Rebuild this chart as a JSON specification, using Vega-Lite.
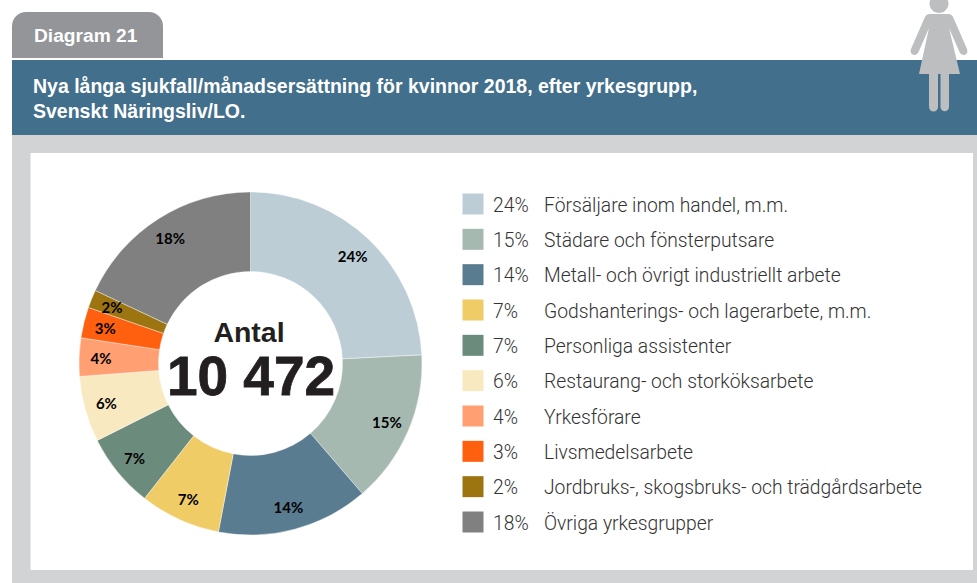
{
"$schema":"https://vega.github.io/schema/vega-lite/v6.json",
"width":977,"height":583,"padding":0,"autosize":{"type":"none"},
"background":"#ffffff",
"config":{"view":{"stroke":null}},
"data":{"values":[
{"name":"Försäljare inom handel, m.m.","value":24.2,"label":"24%","order":1},
{"name":"Städare och fönsterputsare","value":14.5,"label":"15%","order":2},
{"name":"Metall- och övrigt industriellt arbete","value":14.3,"label":"14%","order":3},
{"name":"Godshanterings- och lagerarbete, m.m.","value":7.6,"label":"7%","order":4},
{"name":"Personliga assistenter","value":7.0,"label":"7%","order":5},
{"name":"Restaurang- och storköksarbete","value":6.2,"label":"6%","order":6},
{"name":"Yrkesförare","value":3.6,"label":"4%","order":7},
{"name":"Livsmedelsarbete","value":2.9,"label":"3%","order":8},
{"name":"Jordbruks-, skogsbruks- och trädgårdsarbete","value":1.7,"label":"2%","order":9},
{"name":"Övriga yrkesgrupper","value":18.0,"label":"18%","order":10}
]},
"layer":[
{"data":{"values":[{}]},"mark":{"type":"rect","fill":"#d1d3d4"},"encoding":{"x":{"value":12},"x2":{"value":977},"y":{"value":135},"y2":{"value":583}}},
{"data":{"values":[{}]},"mark":{"type":"rect","fill":"#ffffff"},"encoding":{"x":{"value":30.5},"x2":{"value":973},"y":{"value":153},"y2":{"value":570}}},
{"data":{"values":[{}]},"mark":{"type":"rect","fill":"#939598","cornerRadiusTopLeft":14,"cornerRadiusTopRight":14},"encoding":{"x":{"value":12},"x2":{"value":163},"y":{"value":12},"y2":{"value":58}}},
{"data":{"values":[{}]},"mark":{"type":"rect","fill":"#426f8c"},"encoding":{"x":{"value":12},"x2":{"value":977},"y":{"value":60},"y2":{"value":135}}},
{"data":{"values":[{"t":"Diagram 21"}]},"mark":{"type":"text","align":"left","baseline":"middle","font":"Liberation Sans","fontWeight":"bold","fontSize":19.2,"fill":"#ffffff"},"encoding":{"text":{"field":"t"},"x":{"value":34},"y":{"value":35.5}}},
{"data":{"values":[{"t":"Nya långa sjukfall/månadsersättning för kvinnor 2018, efter yrkesgrupp,\nSvenskt Näringsliv/LO."}]},"mark":{"type":"text","align":"left","baseline":"middle","font":"Liberation Sans","fontWeight":"bold","fontSize":19.5,"lineHeight":25,"lineBreak":"\n","fill":"#ffffff"},"encoding":{"text":{"field":"t"},"x":{"value":33},"y":{"value":87}}},
{"data":{"values":[{}]},"mark":{"type":"point","filled":true,"opacity":1,"size":4,"fill":"#bcbec0","stroke":null,"shape":"M-9,-42 L9,-42 Q13,-42 14.5,-38 L28,-7 Q29.5,-2 25,-1 Q22,-0.5 20.5,-4 L10,-28 L21,18 L10,18 L10,51 A4.25 4.25 0 0 1 1.5,51 L1.5,18 L-1,18 L-1,51 A4.5 4.5 0 0 1 -10,51 L-10,18 L-20,18 L-10,-28 L-20.5,-4 Q-22,-0.5 -25,-1 Q-29.5,-2 -28,-7 L-14.5,-38 Q-13,-42 -9,-42 Z M9.5,-52.5 A9.5 9.5 0 1 1 -9.5,-52.5 A9.5 9.5 0 1 1 9.5,-52.5 Z"},"encoding":{"x":{"value":939},"y":{"value":56}}},
{"mark":{"type":"arc","innerRadius":92,"outerRadius":171.5,"stroke":"#ffffff","strokeWidth":0.4},"encoding":{
"theta":{"field":"value","type":"quantitative","stack":true},
"order":{"field":"order","type":"quantitative"},
"color":{"field":"name","type":"nominal","legend":null,"scale":{"domain":["Försäljare inom handel, m.m.","Städare och fönsterputsare","Metall- och övrigt industriellt arbete","Godshanterings- och lagerarbete, m.m.","Personliga assistenter","Restaurang- och storköksarbete","Yrkesförare","Livsmedelsarbete","Jordbruks-, skogsbruks- och trädgårdsarbete","Övriga yrkesgrupper"],"range":["#bccdd6","#a5b9b0","#5a7c91","#efcc66","#6b8b7d","#f9e9c0","#ff9f72","#ff6010","#9c7510","#808080"]}},
"x":{"value":250.5},"y":{"value":363.5}}},
{"mark":{"type":"text","radius":149,"dy":1,"font":"Lato","fontWeight":"bold","fontSize":15,"fill":"#000000","align":"center","baseline":"middle"},"encoding":{
"theta":{"field":"value","type":"quantitative","stack":true},
"order":{"field":"order","type":"quantitative"},
"text":{"field":"label"},
"x":{"value":250},"y":{"value":363.5}}},
{"data":{"values":[{"t":"Antal"}]},"mark":{"type":"text","align":"center","baseline":"middle","font":"Liberation Sans","fontWeight":"bold","fontSize":28.5,"fill":"#231f20"},"encoding":{"text":{"field":"t"},"x":{"value":249},"y":{"value":332.5}}},
{"data":{"values":[{"t":"10 472"}]},"mark":{"type":"text","align":"center","baseline":"middle","font":"Liberation Sans","fontWeight":"bold","fontSize":55,"stroke":"#231f20","strokeWidth":0.8,"fill":"#231f20"},"encoding":{"text":{"field":"t"},"x":{"value":251},"y":{"value":378}}},
{"mark":{"type":"point","shape":"square","filled":true,"opacity":1,"size":441},"encoding":{
"x":{"value":473},
"y":{"field":"name","type":"nominal","axis":null,"scale":{"type":"point","padding":0,"domain":["Försäljare inom handel, m.m.","Städare och fönsterputsare","Metall- och övrigt industriellt arbete","Godshanterings- och lagerarbete, m.m.","Personliga assistenter","Restaurang- och storköksarbete","Yrkesförare","Livsmedelsarbete","Jordbruks-, skogsbruks- och trädgårdsarbete","Övriga yrkesgrupper"],"range":[204,522]}},
"color":{"field":"name","type":"nominal"}}},
{"mark":{"type":"text","align":"left","baseline":"middle","dy":1.5,"font":"Roboto","fontWeight":300,"fontSize":19.3,"fill":"#333333"},"encoding":{
"x":{"value":493},"y":{"field":"name","type":"nominal"},"text":{"field":"label"}}},
{"mark":{"type":"text","align":"left","baseline":"middle","dy":1.5,"font":"Roboto","fontWeight":300,"fontSize":19.3,"fill":"#333333"},"encoding":{
"x":{"value":544},"y":{"field":"name","type":"nominal"},"text":{"field":"name"}}}
]
}
